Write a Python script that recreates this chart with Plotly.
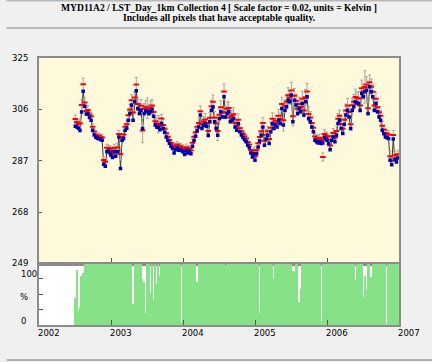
import plotly.graph_objects as go

# ---------------- data ----------------
years = [2002, 2003, 2004, 2005, 2006]
first_doy = {2002: 185}
year_ticks = [2002, 2003, 2004, 2005, 2006, 2007]
year_labels = ["2002", "2003", "2004", "2005", "2006", "2007"]
lst_ticks = [249, 268, 287, 306, 325]

# center pixel LST (K), blue
center_2002 = [299.8, 299.5, 299.0, 298.2, 305.0, 312.7, 307.2, 304.3, 304.4, 303.0, 302.0, 298.3,
               296.5, 295.7, 295.3, 295.1, 294.9, 294.6, 285.7, 285.0, 290.3, 290.6, 289.9]
center_2003 = [289.0, 288.2, 290.5, 288.7, 290.3, 295.8, 284.1, 294.6, 295.2, 298.3, 299.0, 302.0,
               304.5, 307.6, 302.0, 308.8, 312.9, 306.3, 304.5, 305.7, 298.9, 304.5, 305.5, 305.1,
               304.5, 305.1, 306.0, 303.5, 300.2, 299.5, 299.3, 298.5, 300.8, 298.9, 297.5, 295.8,
               294.6, 293.5, 292.4, 291.5, 289.9, 291.1, 291.9, 290.9, 291.1, 290.7]
center_2004 = [290.3, 289.3, 290.9, 289.9, 290.5, 289.6, 292.4, 294.5, 296.1, 298.1, 299.5, 303.9,
               298.9, 300.0, 300.8, 299.8, 296.4, 301.4, 305.7, 306.9, 301.4, 299.0, 296.4, 302.6,
               305.1, 303.2, 310.7, 303.2, 304.5, 305.1, 301.4, 302.0, 302.6, 299.5, 298.3, 300.8,
               297.7, 296.5, 295.6, 294.8, 294.0, 292.7, 291.9, 289.9, 288.4, 289.6]
center_2005 = [287.2, 289.6, 292.1, 294.3, 296.4, 299.5, 292.7, 295.0, 296.4, 293.4, 297.7, 300.8,
               298.9, 300.2, 299.5, 302.0, 300.8, 306.3, 300.2, 305.7, 307.0, 309.4, 308.8, 311.3,
               301.4, 309.4, 307.6, 304.5, 306.3, 305.1, 308.2, 303.9, 308.8, 310.7, 302.6, 301.4,
               299.5, 297.7, 294.6, 294.0, 293.6, 294.0, 293.4, 293.6, 295.6, 295.0]
center_2006 = [294.6, 293.4, 291.1, 294.6, 295.8, 294.0, 296.4, 300.8, 302.0, 298.9, 297.1, 300.5,
               303.9, 305.7, 303.2, 298.9, 305.7, 307.0, 308.8, 308.4, 308.2, 305.7, 311.9, 310.7,
               312.5, 313.1, 304.5, 314.4, 312.5, 310.7, 305.7, 308.2, 305.1, 303.2, 302.0, 298.3,
               297.0, 295.8, 295.5, 295.2, 287.2, 285.5, 295.0, 287.5, 286.5, 288.0]

# mean of all pixels (K), red
mean_2002 = [302.4, 301.3, 300.6, 300.9, 307.6, 315.3, 308.5, 305.4, 305.8, 304.1, 303.5, 299.6,
             297.8, 296.6, 296.0, 296.2, 295.8, 295.6, 287.3, 286.6, 291.8, 291.7, 291.4]
mean_2003 = [290.6, 289.7, 291.8, 290.1, 291.9, 296.9, 289.5, 295.8, 296.7, 299.6, 300.5, 303.8,
             306.0, 309.4, 304.8, 310.4, 315.2, 308.0, 305.9, 307.3, 298.2, 306.2, 307.0, 306.4,
             305.8, 306.7, 307.4, 305.0, 301.6, 300.8, 300.5, 299.9, 302.6, 300.2, 298.9, 297.2,
             295.8, 294.7, 293.6, 292.7, 291.3, 292.2, 293.0, 292.1, 292.4, 291.8]
mean_2004 = [291.6, 290.5, 292.0, 291.2, 291.6, 290.8, 293.7, 295.9, 297.5, 299.6, 301.0, 305.3,
             300.6, 301.5, 302.3, 301.0, 298.0, 302.9, 307.2, 308.8, 303.0, 300.8, 298.0, 304.0,
             306.8, 304.9, 312.6, 304.8, 306.2, 306.5, 303.0, 303.6, 304.2, 301.0, 299.8, 302.2,
             299.0, 297.8, 296.9, 296.0, 295.2, 293.9, 293.0, 291.0, 289.7, 290.8]
mean_2005 = [288.6, 290.9, 293.5, 295.8, 297.9, 301.0, 294.4, 296.6, 297.9, 295.0, 299.2, 302.5,
             300.3, 301.8, 301.0, 303.6, 302.4, 308.0, 302.0, 307.2, 308.8, 311.2, 310.4, 313.0,
             303.5, 311.0, 309.2, 306.2, 308.0, 306.9, 309.9, 305.6, 310.5, 312.6, 304.3, 303.0,
             301.0, 299.2, 296.0, 295.3, 294.9, 295.4, 294.7, 288.4, 296.9, 296.3]
mean_2006 = [296.0, 294.8, 292.6, 296.1, 297.3, 295.5, 298.0, 302.5, 303.6, 300.6, 298.8, 302.2,
             305.6, 307.4, 305.0, 300.5, 307.5, 308.8, 310.6, 310.2, 310.0, 307.4, 313.8, 312.6,
             314.3, 315.2, 306.4, 316.0, 314.4, 312.5, 307.4, 309.9, 306.8, 304.9, 303.6, 299.9,
             298.5, 297.3, 297.0, 296.6, 288.7, 287.0, 296.5, 289.0, 288.0, 289.4]

# standard deviation (K), grey error bars
std_2002 = [1.5, 1.2, 1.4, 1.6, 2.0, 2.3, 1.8, 1.5, 1.7, 1.4, 1.3, 1.1, 1.0, 1.2, 1.0, 1.1, 1.0, 1.2,
            1.4, 1.2, 1.3, 1.1, 1.2]
std_2003 = [1.1, 1.0, 1.3, 1.2, 1.4, 1.3, 2.2, 1.2, 1.4, 1.3, 1.5, 1.6, 1.8, 2.0, 2.4, 2.1, 2.6, 1.9,
            2.0, 2.3, 4.5, 2.0, 2.2, 3.8, 2.1, 2.5, 2.2, 1.9, 1.6, 1.8, 3.2, 1.7, 1.5, 2.0, 1.4, 1.3,
            1.2, 1.5, 1.2, 1.1, 1.0, 1.2, 1.1, 1.0, 1.1, 1.2]
std_2004 = [1.0, 1.1, 1.2, 1.0, 1.1, 1.0, 1.3, 1.4, 1.5, 1.6, 1.8, 2.0, 1.7, 1.9, 2.1, 1.8, 2.4, 2.0,
            2.3, 2.5, 2.2, 2.0, 3.5, 2.1, 2.4, 2.0, 2.8, 2.2, 2.6, 2.3, 2.0, 2.1, 2.4, 1.9, 1.7, 2.2,
            1.6, 1.5, 1.4, 1.3, 1.4, 1.2, 1.1, 1.2, 1.3, 1.1]
std_2005 = [1.2, 1.3, 1.4, 1.5, 1.6, 1.9, 1.7, 2.0, 1.8, 1.6, 2.1, 2.2, 1.9, 2.0, 1.8, 2.3, 2.2, 2.5,
            4.0, 2.4, 2.6, 2.8, 2.5, 3.0, 3.6, 2.7, 2.4, 2.6, 2.5, 2.3, 2.8, 2.4, 2.9, 3.0, 2.6, 2.2,
            2.0, 1.8, 1.6, 1.5, 1.4, 1.5, 1.3, 1.5, 1.6, 1.4]
std_2006 = [1.3, 1.2, 1.5, 1.4, 1.6, 1.5, 1.8, 2.0, 2.2, 1.9, 2.0, 2.3, 2.4, 2.6, 2.3, 2.2, 2.5, 2.7,
            2.9, 2.4, 2.6, 2.5, 3.0, 2.8, 6.0, 2.9, 2.5, 2.7, 2.8, 2.6, 2.4, 2.5, 2.2, 2.1, 1.9, 1.7,
            1.6, 1.5, 1.4, 1.6, 1.8, 1.5, 1.7, 1.4, 1.6, 1.5]

# percent of pixels with acceptable quality
pct_2002 = [45, 90, 25, 30, 80, 85, 100, 100, 100, 100, 100, 100, 100, 100, 100, 100, 100, 100,
            100, 100, 100, 100, 100]
pct_2003 = [100, 100, 100, 100, 100, 100, 100, 100, 100, 100, 100, 100, 100, 100, 35, 100, 100, 100,
            100, 100, 75, 70, 20, 100, 100, 53, 100, 41, 100, 67, 100, 80, 100, 100, 100, 100,
            100, 100, 100, 100, 100, 100, 100, 100, 100, 5]
pct_2004 = [100, 100, 100, 100, 100, 100, 100, 100, 100, 70, 100, 100, 100, 100, 100, 100, 100, 100,
            100, 100, 100, 100, 100, 100, 100, 100, 100, 95, 100, 100, 100, 100, 100, 100, 100, 100,
            100, 100, 100, 100, 100, 100, 100, 100, 100, 100]
pct_2005 = [100, 100, 100, 20, 100, 100, 100, 100, 100, 100, 100, 100, 78, 100, 100, 100, 100, 100,
            100, 100, 100, 100, 100, 100, 88, 87, 100, 100, 38, 60, 100, 100, 100, 100, 100, 100,
            100, 100, 100, 100, 100, 100, 8, 100, 100, 100]
pct_2006 = [100, 100, 100, 100, 100, 100, 100, 100, 100, 100, 100, 100, 100, 100, 100, 100, 100, 100,
            74, 100, 100, 100, 100, 46, 80, 57, 100, 100, 79, 100, 100, 100, 100, 100, 100, 100,
            100, 100, 3, 100, 100, 100, 100, 100, 100, 100]

# ---------------- assemble ----------------
dec_year = []
for yr in years:
    for doy in range(first_doy.get(yr, 1), 366, 8):
        dec_year.append(yr + (doy - 1) / 365.0)

center = center_2002 + center_2003 + center_2004 + center_2005 + center_2006
mean = mean_2002 + mean_2003 + mean_2004 + mean_2005 + mean_2006
std = std_2002 + std_2003 + std_2004 + std_2005 + std_2006
pct = pct_2002 + pct_2003 + pct_2004 + pct_2005 + pct_2006

GRID = "#8c8c8c"
TICKFONT = dict(family="DejaVu Sans", size=8.5, color="#000000")

fig = go.Figure()

fig.add_trace(go.Scatter(x=dec_year, y=center, mode="lines",
                         line=dict(color="#3a3a2a", width=1), xaxis="x", yaxis="y",
                         hoverinfo="skip", showlegend=False))
fig.add_trace(go.Scatter(x=dec_year, y=mean, mode="markers",
                         marker=dict(symbol="line-ew", size=4, color="#ff0000",
                                     line=dict(color="#ff0000", width=2)),
                         error_y=dict(type="data", array=std, color="#a8a8a0",
                                      thickness=1, width=1.5),
                         xaxis="x", yaxis="y", showlegend=False))
fig.add_trace(go.Scatter(x=dec_year, y=center, mode="markers",
                         marker=dict(symbol="square", size=3.5, color="#0000b0",
                                     line=dict(width=0)),
                         xaxis="x", yaxis="y", showlegend=False))
fig.add_trace(go.Bar(x=dec_year, y=pct, width=8 / 365.0 * 0.82,
                     marker=dict(color="#86e286", line=dict(width=0)),
                     xaxis="x2", yaxis="y2", showlegend=False))

split = (325 - 263.5) / 267.0
PW = 368.0
PH = 267.0

annotations = [
    dict(text="<b>MYD11A2 / LST_Day_1km Collection 4 [ Scale factor = 0.02, units = Kelvin ]</b>",
         xref="paper", yref="paper", x=0.5, y=(325 - 7.5) / PH, showarrow=False,
         xanchor="center", yanchor="middle",
         font=dict(family="Liberation Serif", size=9.6, color="#000000")),
    dict(text="<b>Includes all pixels that have acceptable quality.</b>",
         xref="paper", yref="paper", x=0.5, y=(325 - 17.5) / PH, showarrow=False,
         xanchor="center", yanchor="middle",
         font=dict(family="Liberation Serif", size=9.6, color="#000000")),
    dict(text="100", xref="paper", yref="y2", x=-20 / PW, y=83, showarrow=False,
         xanchor="left", yanchor="middle", font=TICKFONT),
    dict(text="%", xref="paper", yref="y2", x=-21 / PW, y=46, showarrow=False,
         xanchor="left", yanchor="middle", font=TICKFONT),
    dict(text="0", xref="paper", yref="y2", x=-20 / PW, y=7, showarrow=False,
         xanchor="left", yanchor="middle", font=TICKFONT),
]
for yv, lab in zip(year_ticks, year_labels):
    annotations.append(dict(text=lab, xref="x2", yref="paper", x=yv, y=(325 - 333) / PH,
                            showarrow=False, xanchor="left", yanchor="middle",
                            xshift=-3, font=TICKFONT))

fig.update_layout(
    width=432, height=362, autosize=False,
    margin=dict(l=31, r=33, t=58, b=37, pad=0),
    paper_bgcolor="#f0f0f0", plot_bgcolor="#ffffff",
    bargap=0,
    xaxis=dict(domain=[0, 1], anchor="y", range=[2002, 2007], tickvals=year_ticks[1:-1],
               showticklabels=False, ticks="inside", ticklen=6, tickcolor="#555555",
               tickwidth=1, showgrid=False, zeroline=False, showline=True, mirror=True,
               linecolor=GRID, linewidth=2),
    yaxis=dict(domain=[split, 1], anchor="x", range=[249, 325], tickvals=lst_ticks,
               ticks="inside", ticklen=3, tickcolor="#555555", tickfont=TICKFONT,
               ticklabelstandoff=7, showgrid=False, zeroline=False, showline=True,
               mirror=True, linecolor=GRID, linewidth=2),
    xaxis2=dict(domain=[0, 1], anchor="y2", matches="x", range=[2002, 2007],
                tickvals=year_ticks[1:-1], showticklabels=False, ticks="inside", ticklen=5,
                tickcolor="#555555", showgrid=False, zeroline=False, showline=True,
                mirror=True, linecolor=GRID, linewidth=2),
    yaxis2=dict(domain=[0, split], anchor="x2", range=[0, 100], tickvals=[25, 50, 75],
                showticklabels=False, ticks="inside", ticklen=4, tickcolor="#555555",
                showgrid=False, zeroline=False, showline=True, mirror=True,
                linecolor=GRID, linewidth=2),
    shapes=[
        dict(type="rect", xref="x", yref="y", x0=2002, x1=2007, y0=249, y1=325,
             fillcolor="#fff9dc", line=dict(width=0), layer="below"),
        dict(type="line", xref="paper", yref="paper", x0=-0.09, x1=1.1,
             y0=(325 - 0.5) / PH, y1=(325 - 0.5) / PH,
             line=dict(color="#b8b8b8", width=2)),
        dict(type="line", xref="paper", yref="paper", x0=-0.09, x1=1.1,
             y0=(325 - 28) / PH, y1=(325 - 28) / PH,
             line=dict(color="#b8b8b8", width=2)),
        dict(type="line", xref="paper", yref="paper", x0=-0.09, x1=1.1,
             y0=(325 - 360) / PH, y1=(325 - 360) / PH,
             line=dict(color="#b0b0b0", width=2)),
    ],
    annotations=annotations,
)

fig.write_html("out.html",
               config={"displayModeBar": False},
               post_script="document.body.style.margin='0';"
                           "document.body.style.background='#f0f0f0';")
